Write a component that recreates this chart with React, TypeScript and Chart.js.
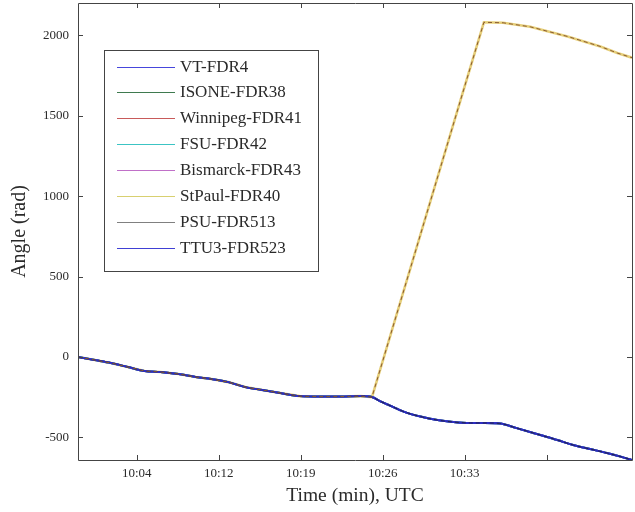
import { useEffect, useRef } from 'react';
import { Chart, registerables } from 'chart.js';

Chart.register(...registerables);

// Time in minutes from the start of the record, angle in rad.
// Shared trajectory followed by most recorders.
const timeMain = [0, 1.5, 2.9, 4.4, 5.9, 7.3, 8.9, 10.4, 11.8, 13.3, 14.8, 16.3, 17.9, 19.6, 21.4, 23.2, 25.0, 26.0, 26.7, 27.6, 28.8, 30.3, 31.8, 33.2, 34.7, 36.0, 37.3, 38.8, 40.9, 42.4, 43.8, 45.3, 46.8, 48.0, 49.0];
const angleMain = [0, -19, -37, -62, -87, -93, -106, -124, -137, -156, -187, -205, -224, -243, -246, -246, -243, -249, -274, -302, -339, -370, -392, -404, -410, -410, -413, -442, -485, -516, -547, -572, -597, -619, -640];

// Branch taken after the separation at ~26 min.
const timeSplit = [28.0, 31.0, 34.0, 35.9, 37.6, 40.0, 43.3, 46.2, 47.7, 49.0];
const angleSplit = [222, 928, 1635, 2080, 2077, 2052, 1992, 1930, 1889, 1860];
const splitTime = 26.0;

const seriesNames = ['VT-FDR4', 'ISONE-FDR38', 'Winnipeg-FDR41', 'FSU-FDR42', 'Bismarck-FDR43', 'StPaul-FDR40', 'PSU-FDR513', 'TTU3-FDR523'];
const seriesColors = ['#4646dc', '#3f7a4f', '#c85a5a', '#3cc4c4', '#c070c8', '#d8d070', '#808080', '#4040d4'];
const seriesBranch = ['main', 'main', 'split', 'main', 'main', 'split', 'main', 'main'];

const xTickPositions = [5.2, 12.45, 19.7, 26.95, 34.2, 41.45];
const xTickLabels = ['10:04', '10:12', '10:19', '10:26', '10:33', ''];
const yTickValues = [-500, 0, 500, 1000, 1500, 2000];

const X_MIN = 0;
const X_MAX = 49;
const Y_MIN = -640;
const Y_MAX = 2200;

const FONT = '"Liberation Serif", "Times New Roman", serif';
const INK = '#2a2a2a';

function mainPoints() {
  return timeMain.map((t, i) => ({ x: t, y: angleMain[i] }));
}

function splitPoints() {
  const head = timeMain
    .map((t, i) => ({ x: t, y: angleMain[i] }))
    .filter((p) => p.x <= splitTime);
  const tail = timeSplit.map((t, i) => ({ x: t, y: angleSplit[i] }));
  return head.concat(tail);
}

// Line styling per recorder: overlapping traces stack on the two branches.
function lineStyle(name: string) {
  switch (name) {
    case 'PSU-FDR513':
      return { width: 1, dash: [4, 3], color: '#22224a', order: 0 };
    case 'Winnipeg-FDR41':
      return { width: 1, dash: [4, 3], color: '#8a5a30', order: 0 };
    case 'StPaul-FDR40':
      return { width: 2.6, dash: [], color: '#e6cf7a', order: 3 };
    case 'TTU3-FDR523':
      return { width: 1.8, dash: [], color: '#2c2cc0', order: 1 };
    default:
      return { width: 2, dash: [], color: null as string | null, order: 2 };
  }
}

const frameAndTicks = {
  id: 'frameAndTicks',
  afterDraw(chart: any) {
    const { ctx, chartArea } = chart;
    const xs = chart.scales.x;
    const ys = chart.scales.y;
    const { left, right, top, bottom } = chartArea;
    const len = 5;
    ctx.save();
    ctx.strokeStyle = '#444';
    ctx.lineWidth = 1;
    ctx.beginPath();
    ctx.rect(Math.round(left) + 0.5, Math.round(top) + 0.5, Math.round(right - left), Math.round(bottom - top));
    ctx.stroke();
    ctx.beginPath();
    xTickPositions.forEach((v) => {
      const px = Math.round(xs.getPixelForValue(v)) + 0.5;
      ctx.moveTo(px, bottom);
      ctx.lineTo(px, bottom - len);
      ctx.moveTo(px, top);
      ctx.lineTo(px, top + len);
    });
    yTickValues.forEach((v) => {
      const py = Math.round(ys.getPixelForValue(v)) + 0.5;
      ctx.moveTo(left, py);
      ctx.lineTo(left + len, py);
      ctx.moveTo(right, py);
      ctx.lineTo(right - len, py);
    });
    ctx.stroke();
    ctx.restore();
  },
};

const boxedLegend = {
  id: 'boxedLegend',
  afterDraw(chart: any) {
    const { ctx } = chart;
    const bx = 104;
    const by = 50;
    const bw = 214;
    const bh = 221;
    const rowTop = 66.5;
    const rowGap = 25.9;
    ctx.save();
    ctx.fillStyle = '#ffffff';
    ctx.fillRect(bx, by, bw, bh);
    ctx.strokeStyle = '#444';
    ctx.lineWidth = 1;
    ctx.strokeRect(bx + 0.5, by + 0.5, bw, bh);
    ctx.font = `17px ${FONT}`;
    ctx.textBaseline = 'middle';
    ctx.textAlign = 'left';
    seriesNames.forEach((name, i) => {
      const y = Math.round(rowTop + i * rowGap) + 0.5;
      ctx.strokeStyle = seriesColors[i];
      ctx.lineWidth = 1.2;
      ctx.beginPath();
      ctx.moveTo(117, y);
      ctx.lineTo(175, y);
      ctx.stroke();
      ctx.fillStyle = INK;
      ctx.fillText(name, 180, y);
    });
    ctx.restore();
  },
};

export default function App() {
  const ref = useRef<HTMLCanvasElement>(null);

  useEffect(() => {
    const datasets = seriesNames.map((name, i) => {
      const st = lineStyle(name);
      const split = seriesBranch[i] === 'split';
      return {
        label: name,
        data: split ? splitPoints() : mainPoints(),
        borderColor: st.color ?? seriesColors[i],
        backgroundColor: st.color ?? seriesColors[i],
        borderWidth: st.width,
        borderDash: st.dash,
        pointRadius: 0,
        tension: split ? 0 : 0.2,
        cubicInterpolationMode: split ? ('default' as const) : ('monotone' as const),
        fill: false,
        order: st.order,
      };
    });

    const chart = new Chart(ref.current!, {
      type: 'line',
      data: { datasets },
      plugins: [frameAndTicks, boxedLegend],
      options: {
        animation: false,
        responsive: false,
        devicePixelRatio: 1,
        layout: { padding: { left: 0, top: 3, right: 3, bottom: 0 } },
        plugins: {
          legend: { display: false },
          tooltip: { enabled: false },
        },
        scales: {
          x: {
            type: 'linear',
            min: X_MIN,
            max: X_MAX,
            grid: { display: false, drawTicks: false },
            border: { display: false },
            afterBuildTicks: (scale: any) => {
              scale.ticks = xTickPositions.map((v) => ({ value: v }));
            },
            afterFit: (scale: any) => {
              scale.height = 52;
              scale.paddingLeft = 0;
              scale.paddingRight = 0;
            },
            ticks: {
              autoSkip: false,
              maxRotation: 0,
              padding: 6,
              color: INK,
              font: { family: FONT, size: 13 },
              callback: (v: any) => {
                const idx = xTickPositions.indexOf(Number(v));
                return idx >= 0 ? xTickLabels[idx] : '';
              },
            },
            title: {
              display: true,
              text: 'Time (min), UTC',
              color: INK,
              font: { family: FONT, size: 19.5 },
              padding: { top: 0, bottom: 4 },
            },
          },
          y: {
            type: 'linear',
            min: Y_MIN,
            max: Y_MAX,
            grid: { display: false, drawTicks: false },
            border: { display: false },
            afterBuildTicks: (scale: any) => {
              scale.ticks = yTickValues.map((v) => ({ value: v }));
            },
            afterFit: (scale: any) => {
              scale.width = 78;
              scale.paddingTop = 0;
              scale.paddingBottom = 0;
            },
            ticks: {
              autoSkip: false,
              padding: 9,
              color: INK,
              font: { family: FONT, size: 13 },
              callback: (v: any) => String(v),
            },
            title: {
              display: true,
              text: 'Angle (rad)',
              color: INK,
              font: { family: FONT, size: 20 },
              padding: { top: 8, bottom: 0 },
            },
          },
        },
      },
    });

    return () => chart.destroy();
  }, []);

  return (
    <div style={{ position: 'absolute', left: 0, top: 0, width: 635, height: 512, background: '#ffffff' }}>
      <canvas ref={ref} width={635} height={512} style={{ display: 'block' }} />
    </div>
  );
}
